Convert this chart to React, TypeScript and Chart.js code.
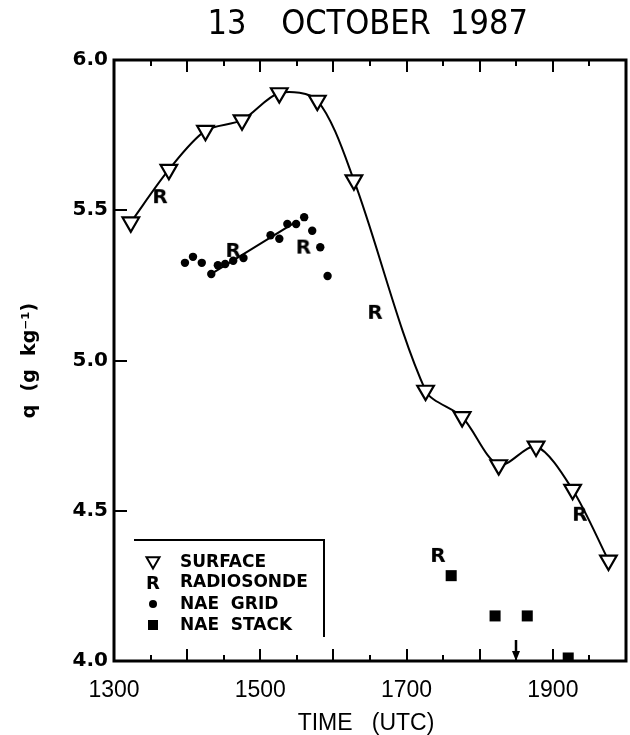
import React, { useEffect, useRef } from 'react';
import { Chart, registerables } from 'chart.js';

Chart.register(...registerables);

// ---- text ----
const TITLE_WORDS = ['13', 'OCTOBER', '1987'];
const X_TITLE = 'TIME   (UTC)';
const Y_TITLE = 'q  (g  kg\u207B\u00B9)';

// ---- axes ----
const X_MIN = 13;
const X_MAX = 20;
const X_STEP = 0.5;
const X_LABEL_HOURS = [13, 15, 17, 19];
const Y_MIN = 4.0;
const Y_MAX = 6.0;
const Y_STEP = 0.5;

// ---- data (time in decimal hours UTC, q in g/kg) ----
const SURFACE_TIME = [13.23, 13.75, 14.25, 14.75, 15.26, 15.78, 16.28, 17.26, 17.76, 18.26, 18.77, 19.27, 19.76];
const SURFACE_Q = [5.46, 5.635, 5.765, 5.80, 5.89, 5.865, 5.60, 4.90, 4.812, 4.652, 4.714, 4.57, 4.335];

const RADIOSONDE_TIME = [13.63, 14.63, 15.59, 16.57, 17.43, 19.37];
const RADIOSONDE_Q = [5.547, 5.368, 5.379, 5.162, 4.353, 4.49];

const GRID_TIME = [13.97, 14.08, 14.2, 14.33, 14.42, 14.52, 14.63, 14.77, 15.14, 15.26, 15.37, 15.49, 15.6, 15.71, 15.82, 15.92];
const GRID_Q = [5.325, 5.345, 5.325, 5.288, 5.317, 5.321, 5.332, 5.341, 5.417, 5.405, 5.454, 5.454, 5.477, 5.432, 5.377, 5.281];

const GRID_FIT_TIME = [14.33, 15.47];
const GRID_FIT_Q = [5.288, 5.459];

const STACK_TIME = [17.61, 18.21, 18.65, 19.21];
const STACK_Q = [4.284, 4.15, 4.15, 4.01];

const ARROW_TIME = 18.5;

const LEGEND_LABELS = ['SURFACE', 'RADIOSONDE', 'NAE  GRID', 'NAE  STACK'];

const pts = (xs: number[], ys: number[]) => xs.map((x, i) => ({ x, y: ys[i] }));

function makeLetter(letter: string, px: number): HTMLCanvasElement {
  const size = Math.ceil(px * 1.2);
  const c = document.createElement('canvas');
  c.width = size;
  c.height = size;
  const g = c.getContext('2d')!;
  g.fillStyle = '#000';
  g.font = `bold ${px}px "DejaVu Sans", sans-serif`;
  g.textAlign = 'center';
  g.textBaseline = 'alphabetic';
  g.fillText(letter, size / 2, size / 2 + (px * 0.729) / 2);
  return c;
}

export default function App() {
  const ref = useRef<HTMLCanvasElement | null>(null);

  useEffect(() => {
    const canvas = ref.current;
    if (!canvas) return;
    const rImg = makeLetter('R', 20);
    const rImgLegend = makeLetter('R', 18);

    const decor = {
      id: 'decor',
      afterDatasetsDraw(chart: any) {
        const { ctx, chartArea: a, scales } = chart;
        const xs = scales.x;
        const ys = scales.y;
        ctx.save();
        ctx.strokeStyle = '#000';
        ctx.fillStyle = '#000';
        const seg = (x1: number, y1: number, x2: number, y2: number) => {
          ctx.beginPath();
          ctx.moveTo(x1, y1);
          ctx.lineTo(x2, y2);
          ctx.stroke();
        };
        // tick marks (inward)
        ctx.lineWidth = 2;
        xs.ticks.forEach((t: any) => {
          const v = t.value;
          if (v <= X_MIN + 1e-6 || v >= X_MAX - 1e-6) return;
          const px = Math.round(xs.getPixelForValue(v));
          const len = Math.abs(v - Math.round(v)) < 1e-6 ? 12 : 6;
          seg(px, a.bottom, px, a.bottom - len);
          seg(px, a.top, px, a.top + len);
        });
        ys.ticks.forEach((t: any) => {
          const v = t.value;
          if (v <= Y_MIN + 1e-6 || v >= Y_MAX - 1e-6) return;
          const py = Math.round(ys.getPixelForValue(v));
          seg(a.left, py, a.left + 13, py);
        });
        // frame
        ctx.lineWidth = 3;
        ctx.strokeRect(a.left, a.top, a.right - a.left, a.bottom - a.top);

        // arrow
        const ax = Math.round(xs.getPixelForValue(ARROW_TIME));
        ctx.lineWidth = 2.5;
        seg(ax, a.bottom - 21, ax, a.bottom - 6);
        ctx.beginPath();
        ctx.moveTo(ax - 4, a.bottom - 10);
        ctx.lineTo(ax + 4, a.bottom - 10);
        ctx.lineTo(ax, a.bottom);
        ctx.closePath();
        ctx.fill();

        // legend box (top + right edges)
        const bx1 = a.left + 20;
        const bx2 = a.left + 210;
        const by1 = a.bottom - 121;
        const by2 = a.bottom - 24;
        ctx.lineWidth = 2;
        ctx.beginPath();
        ctx.moveTo(bx1, by1);
        ctx.lineTo(bx2, by1);
        ctx.lineTo(bx2, by2);
        ctx.stroke();

        const symX = a.left + 39;
        const textX = a.left + 66;
        const rowY = [a.bottom - 99, a.bottom - 79, a.bottom - 57, a.bottom - 36];
        // triangle
        {
          const r = 7.5;
          const y = rowY[0] - 1;
          ctx.lineWidth = 2;
          ctx.fillStyle = '#fff';
          ctx.beginPath();
          ctx.moveTo(symX, y + r);
          ctx.lineTo(symX - r * 0.866, y - r / 2);
          ctx.lineTo(symX + r * 0.866, y - r / 2);
          ctx.closePath();
          ctx.fill();
          ctx.stroke();
          ctx.fillStyle = '#000';
        }
        ctx.drawImage(rImgLegend, symX - rImgLegend.width / 2, rowY[1] - rImgLegend.height / 2);
        ctx.beginPath();
        ctx.arc(symX, rowY[2], 4, 0, Math.PI * 2);
        ctx.fill();
        ctx.fillRect(symX - 5, rowY[3] - 5, 10, 10);

        ctx.font = 'bold 17px "DejaVu Sans", sans-serif';
        ctx.textAlign = 'left';
        ctx.textBaseline = 'middle';
        LEGEND_LABELS.forEach((lab, i) => ctx.fillText(lab, textX, rowY[i] + 1));
        ctx.restore();
      },
      afterDraw(chart: any) {
        const { ctx, chartArea: a } = chart;
        ctx.save();
        ctx.fillStyle = '#000';
        // title: three words, centred over the plot
        ctx.font = '34px "DejaVu Sans Condensed", "Liberation Sans Narrow", sans-serif';
        ctx.textBaseline = 'alphabetic';
        ctx.textAlign = 'center';
        const cx = (a.left + a.right) / 2;
        const offsets = [-143, -14, 119];
        TITLE_WORDS.forEach((w, i) => ctx.fillText(w, cx + offsets[i], 34));
        // x title
        ctx.font = '23px "Liberation Sans", sans-serif';
        ctx.textAlign = 'center';
        ctx.fillText(X_TITLE, cx - 4, 730);
        // y title
        ctx.translate(35, (a.top + a.bottom) / 2);
        ctx.rotate(-Math.PI / 2);
        ctx.font = 'bold 19px "DejaVu Sans", sans-serif';
        ctx.textAlign = 'center';
        ctx.textBaseline = 'alphabetic';
        ctx.fillText(Y_TITLE, 0, 0);
        ctx.restore();
      },
    };

    const chart = new Chart(canvas, {
      type: 'scatter',
      data: {
        datasets: [
          {
            label: LEGEND_LABELS[0],
            data: pts(SURFACE_TIME, SURFACE_Q),
            showLine: true,
            tension: 0.3,
            borderColor: '#000',
            borderWidth: 2,
            pointStyle: 'triangle',
            rotation: 180,
            pointRadius: 9.6,
            pointBorderWidth: 2.2,
            pointBackgroundColor: '#fff',
            pointBorderColor: '#000',
          },
          {
            label: LEGEND_LABELS[1],
            data: pts(RADIOSONDE_TIME, RADIOSONDE_Q),
            showLine: false,
            pointStyle: rImg as any,
            pointRadius: 8,
          },
          {
            label: 'fit',
            data: pts(GRID_FIT_TIME, GRID_FIT_Q),
            showLine: true,
            tension: 0,
            borderColor: '#000',
            borderWidth: 2,
            pointRadius: 0,
          },
          {
            label: LEGEND_LABELS[2],
            data: pts(GRID_TIME, GRID_Q),
            showLine: false,
            pointStyle: 'circle',
            pointRadius: 4.2,
            pointBackgroundColor: '#000',
            pointBorderWidth: 0,
          },
          {
            label: LEGEND_LABELS[3],
            data: pts(STACK_TIME, STACK_Q),
            showLine: false,
            pointStyle: 'rect',
            pointRadius: 7.8,
            pointBackgroundColor: '#000',
            pointBorderWidth: 0,
          },
        ],
      },
      options: {
        responsive: false,
        animation: false,
        devicePixelRatio: 1,
        events: [],
        layout: { autoPadding: false, padding: { left: 0, right: 4, top: 60, bottom: 0 } },
        plugins: {
          legend: { display: false },
          tooltip: { enabled: false },
          title: { display: false },
        },
        scales: {
          x: {
            type: 'linear',
            min: X_MIN,
            max: X_MAX,
            grid: { display: false, drawTicks: false },
            border: { display: false },
            ticks: {
              stepSize: X_STEP,
              autoSkip: false,
              maxRotation: 0,
              padding: 16,
              color: '#000',
              font: { family: '"Liberation Sans", sans-serif', size: 23 },
              callback: (v: any) => (X_LABEL_HOURS.includes(Number(v)) ? String(Math.round(Number(v) * 100)) : ''),
            },
            afterFit: (s: any) => {
              s.height = 74;
              s.paddingLeft = 0;
              s.paddingRight = 0;
            },
          },
          y: {
            type: 'linear',
            min: Y_MIN,
            max: Y_MAX,
            grid: { display: false, drawTicks: false },
            border: { display: false },
            ticks: {
              stepSize: Y_STEP,
              padding: 6,
              color: '#000',
              font: { family: '"DejaVu Sans", sans-serif', size: 20, weight: 'bold' },
              callback: (v: any) => Number(v).toFixed(1),
            },
            afterFit: (s: any) => {
              s.width = 114;
              s.paddingTop = 0;
              s.paddingBottom = 0;
            },
          },
        },
      },
      plugins: [decor],
    } as any);

    return () => chart.destroy();
  }, []);

  return (
    <div style={{ position: 'fixed', left: 0, top: 0, width: 630, height: 735, background: '#fff' }}>
      <canvas ref={ref} width={630} height={735} style={{ display: 'block', width: 630, height: 735 }} />
    </div>
  );
}
